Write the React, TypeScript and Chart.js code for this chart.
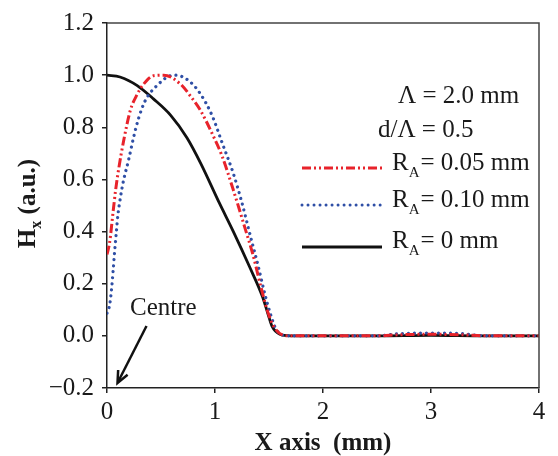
import React, { useEffect, useRef } from "react";
import { Chart, registerables } from "chart.js";

Chart.register(...registerables);

const xTicks = [0, 1, 2, 3, 4];
const yTicks = [-0.2, 0, 0.2, 0.4, 0.6, 0.8, 1.0, 1.2];

const blackX = [0, 0.12, 0.28, 0.43, 0.59, 0.74, 0.87, 1.04, 1.17, 1.32, 1.44, 1.49, 1.53, 1.6, 1.7, 2.5, 3.0, 3.5, 4.0];
const blackY = [1.0, 0.993, 0.96, 0.909, 0.846, 0.76, 0.66, 0.51, 0.4, 0.265, 0.15, 0.085, 0.035, 0.006, 0, 0, 0.002, 0, 0];

const redX = [0, 0.025, 0.056, 0.08, 0.11, 0.155, 0.216, 0.278, 0.34, 0.432, 0.525, 0.68, 0.772, 0.865, 0.988, 1.065, 1.167, 1.275, 1.352, 1.43, 1.49, 1.553, 1.66, 2.0, 2.5, 2.7, 3.0, 3.3, 3.5, 4.0];
const redY = [0.312, 0.36, 0.474, 0.56, 0.645, 0.75, 0.865, 0.925, 0.966, 0.998, 1.0, 0.966, 0.92, 0.865, 0.763, 0.69, 0.563, 0.417, 0.31, 0.18, 0.09, 0.03, 0, 0, 0, 0.004, 0.006, 0.004, 0, 0];

const blueX = [0, 0.025, 0.04, 0.056, 0.07, 0.087, 0.1, 0.124, 0.15, 0.2, 0.247, 0.293, 0.355, 0.463, 0.587, 0.633, 0.756, 0.865, 0.972, 1.07, 1.167, 1.244, 1.33, 1.398, 1.46, 1.506, 1.568, 1.68, 2.0, 2.5, 2.7, 3.0, 3.3, 3.5, 4.0];
const blueY = [0.087, 0.12, 0.17, 0.246, 0.32, 0.4, 0.46, 0.53, 0.59, 0.675, 0.763, 0.835, 0.903, 0.96, 0.998, 1.0, 0.979, 0.928, 0.846, 0.736, 0.626, 0.519, 0.379, 0.271, 0.163, 0.094, 0.024, 0, 0, 0, 0.008, 0.011, 0.008, 0, 0];

const infoLines = ["Λ = 2.0 mm", "d/Λ = 0.5"];
const seriesValues = ["= 0.05 mm", "= 0.10 mm", "= 0 mm"];
const seriesColors = ["#e8232b", "#2f4fa6", "#111111"];
const annotationText = "Centre";
const xTitle = "X axis  (mm)";

const FONT = "'Liberation Serif', 'Times New Roman', serif";
const FS = 25;

const toPts = (xs: number[], ys: number[]) => xs.map((x, i) => ({ x, y: ys[i] }));

const overlayPlugin = {
  id: "overlay",
  afterDraw(chart: any) {
    const ctx = chart.ctx as CanvasRenderingContext2D;
    const { left, right, top, bottom } = chart.chartArea;
    ctx.save();
    ctx.strokeStyle = "#444";
    ctx.lineWidth = 1.5;
    ctx.setLineDash([]);
    ctx.beginPath();
    ctx.moveTo(left, top);
    ctx.lineTo(right, top);
    ctx.lineTo(right, bottom);
    ctx.stroke();

    ctx.fillStyle = "#1a1a1a";
    ctx.textBaseline = "alphabetic";
    ctx.textAlign = "left";
    ctx.font = `${FS}px ${FONT}`;
    ctx.fillText(infoLines[0], 398, 103);
    ctx.fillText(infoLines[1], 378, 137);

    const rows = [170, 207, 248];
    const lineYs = [168, 205, 247];
    const dashes = [[9, 3, 2, 3, 2, 3], [0.01, 6], []];
    const caps: CanvasLineCap[] = ["butt", "round", "butt"];
    for (let i = 0; i < 3; i++) {
      ctx.strokeStyle = seriesColors[i];
      ctx.lineWidth = 3;
      ctx.lineCap = caps[i];
      ctx.setLineDash(dashes[i]);
      ctx.beginPath();
      ctx.moveTo(302, lineYs[i]);
      ctx.lineTo(382, lineYs[i]);
      ctx.stroke();
      ctx.setLineDash([]);
      ctx.lineCap = "butt";
      ctx.fillStyle = "#1a1a1a";
      ctx.font = `${FS}px ${FONT}`;
      ctx.fillText("R", 392, rows[i]);
      const rw = ctx.measureText("R").width;
      ctx.font = `15px ${FONT}`;
      ctx.fillText("A", 392 + rw, rows[i] + 7);
      const aw = ctx.measureText("A").width;
      ctx.font = `${FS}px ${FONT}`;
      ctx.fillText(seriesValues[i], 392 + rw + aw + 1, rows[i]);
    }

    ctx.font = `${FS}px ${FONT}`;
    ctx.fillText(annotationText, 130, 315);
    ctx.strokeStyle = "#111";
    ctx.lineWidth = 2.5;
    ctx.beginPath();
    ctx.moveTo(146.5, 326);
    ctx.lineTo(118.5, 381);
    ctx.stroke();
    const tipX = 117.5, tipY = 383;
    const ang = Math.atan2(326 - 383, 146.5 - 117.5);
    ctx.beginPath();
    ctx.moveTo(tipX + 13 * Math.cos(ang + 0.42), tipY + 13 * Math.sin(ang + 0.42));
    ctx.lineTo(tipX, tipY);
    ctx.lineTo(tipX + 13 * Math.cos(ang - 0.42), tipY + 13 * Math.sin(ang - 0.42));
    ctx.stroke();

    ctx.font = `bold ${FS}px ${FONT}`;
    ctx.textAlign = "center";
    ctx.fillText(xTitle, 323, 450);

    ctx.translate(35, 203.5);
    ctx.rotate(-Math.PI / 2);
    ctx.textAlign = "left";
    ctx.font = `bold ${FS}px ${FONT}`;
    const hW = ctx.measureText("H").width;
    const restW = ctx.measureText(" (a.u.)").width;
    ctx.font = `bold 16px ${FONT}`;
    const xW = ctx.measureText("x").width;
    const total = hW + xW + restW;
    let cx = -total / 2;
    ctx.font = `bold ${FS}px ${FONT}`;
    ctx.fillText("H", cx, 0);
    cx += hW;
    ctx.font = `bold 16px ${FONT}`;
    ctx.fillText("x", cx, 6);
    cx += xW;
    ctx.font = `bold ${FS}px ${FONT}`;
    ctx.fillText(" (a.u.)", cx, 0);
    ctx.restore();
  },
};

export default function App() {
  const ref = useRef<HTMLCanvasElement | null>(null);
  useEffect(() => {
    document.body.style.margin = "0";
    const canvas = ref.current!;
    const chart = new Chart(canvas, {
      type: "line",
      data: {
        datasets: [
          {
            label: "RA = 0.05 mm",
            data: toPts(redX, redY),
            borderColor: seriesColors[0],
            borderWidth: 3,
            borderDash: [9, 3, 2, 3, 2, 3],
            pointRadius: 0,
            cubicInterpolationMode: "monotone",
            fill: false,
          },
          {
            label: "RA = 0.10 mm",
            data: toPts(blueX, blueY),
            borderColor: seriesColors[1],
            borderWidth: 3.2,
            borderDash: [0.01, 6],
            borderCapStyle: "round",
            pointRadius: 0,
            cubicInterpolationMode: "monotone",
            fill: false,
          },
          {
            label: "RA = 0 mm",
            data: toPts(blackX, blackY),
            borderColor: seriesColors[2],
            borderWidth: 2.8,
            pointRadius: 0,
            cubicInterpolationMode: "monotone",
            fill: false,
          },
        ],
      },
      options: {
        responsive: false,
        animation: false,
        devicePixelRatio: 1,
        layout: { padding: { top: 19, right: 19, left: 0, bottom: 0 } },
        plugins: { legend: { display: false }, tooltip: { enabled: false } },
        scales: {
          x: {
            type: "linear",
            min: 0,
            max: 4,
            afterFit: (s: any) => {
              s.height = 68;
            },
            afterBuildTicks: (s: any) => {
              s.ticks = xTicks.map((v) => ({ value: v }));
            },
            ticks: {
              font: { family: FONT, size: FS },
              color: "#1a1a1a",
              padding: 4,
              maxRotation: 0,
              callback: (v: any) => String(v),
            },
            grid: { drawOnChartArea: false, drawTicks: true, tickLength: 5, color: "#222", lineWidth: 1.5 },
            border: { display: true, color: "#222", width: 1.5 },
          },
          y: {
            type: "linear",
            min: -0.2,
            max: 1.2,
            afterFit: (s: any) => {
              s.width = 107;
            },
            afterBuildTicks: (s: any) => {
              s.ticks = yTicks.map((v) => ({ value: v }));
            },
            ticks: {
              font: { family: FONT, size: FS },
              color: "#1a1a1a",
              padding: 8,
              callback: (v: any) => {
                const n = Number(v);
                const s = Math.abs(n).toFixed(1);
                return n < -1e-9 ? "\u2212" + s : s;
              },
            },
            grid: { drawOnChartArea: false, drawTicks: true, tickLength: 5, color: "#222", lineWidth: 1.5 },
            border: { display: true, color: "#222", width: 1.5 },
          },
        },
      },
      plugins: [overlayPlugin],
    } as any);
    return () => chart.destroy();
  }, []);
  return (
    <div style={{ width: 558, height: 456 }}>
      <canvas ref={ref} width={558} height={456} style={{ display: "block", width: 558, height: 456 }} />
    </div>
  );
}
